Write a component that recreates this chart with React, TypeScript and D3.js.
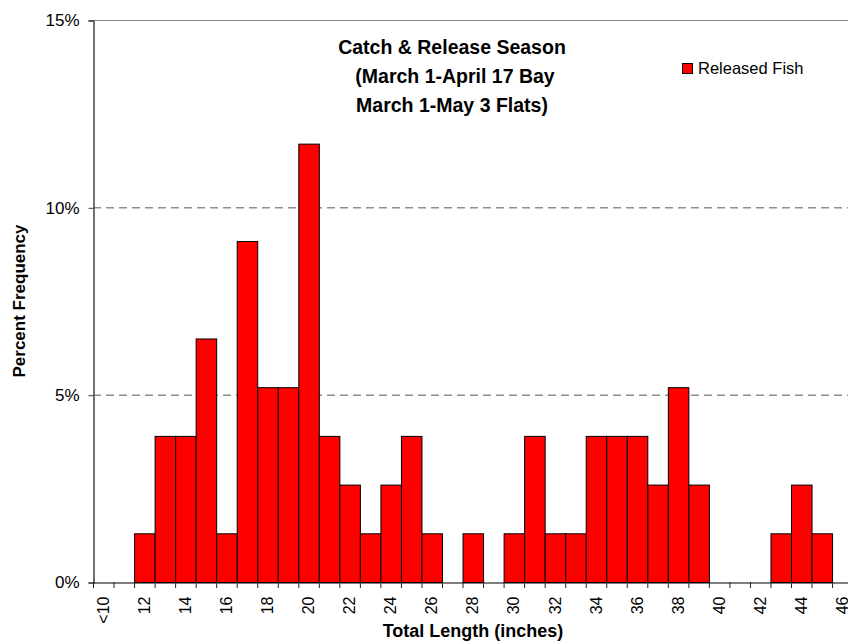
import React, { useEffect, useRef } from 'react';
import * as d3 from 'd3';

// length classes (inches) and percent of released fish
const lengths = ['<10', '11', '12', '13', '14', '15', '16', '17', '18', '19', '20', '21', '22', '23',
  '24', '25', '26', '27', '28', '29', '30', '31', '32', '33', '34', '35', '36', '37', '38', '39',
  '40', '41', '42', '43', '44', '45', '46'];
const releasedPct = [0, 0, 1.3, 3.9, 3.9, 6.5, 1.3, 9.1, 5.2, 5.2, 11.7, 3.9, 2.6, 1.3,
  2.6, 3.9, 1.3, 0, 1.3, 0, 1.3, 3.9, 1.3, 1.3, 3.9, 3.9, 3.9, 2.6, 5.2, 2.6,
  0, 0, 0, 1.3, 2.6, 1.3, 0];
const yTicks = [0, 5, 10, 15];
const titleLines = ['Catch & Release Season', '(March 1-April 17 Bay', 'March 1-May 3 Flats)'];
const seriesName = 'Released Fish';

const FONT = '"Liberation Sans", Arial, sans-serif';

export default function App() {
  const ref = useRef<SVGSVGElement>(null);

  useEffect(() => {
    document.body.style.margin = '0';
    const width = 848;
    const height = 641;
    const margin = { top: 20, left: 93, bottom: 59 };
    const plotRight = margin.left + 20.53 * lengths.length;
    const baseY = height - margin.bottom;

    const svg = d3.select(ref.current);
    svg.selectAll('*').remove();
    svg.attr('width', width).attr('height', height).style('display', 'block');

    const x = d3.scaleBand().domain(lengths).range([margin.left, plotRight]).padding(0);
    const y = d3.scaleLinear().domain([0, 15]).range([baseY, margin.top]);

    // gridlines
    svg.append('g')
      .selectAll('line')
      .data(yTicks.filter(t => t > 0 && t < 15))
      .enter()
      .append('line')
      .attr('x1', margin.left)
      .attr('x2', plotRight)
      .attr('y1', d => y(d) + 0.5)
      .attr('y2', d => y(d) + 0.5)
      .attr('stroke', '#555')
      .attr('stroke-dasharray', '8,5');

    // top border
    svg.append('line')
      .attr('x1', margin.left).attr('x2', plotRight)
      .attr('y1', y(15) + 0.5).attr('y2', y(15) + 0.5)
      .attr('stroke', '#888');

    // bars
    svg.append('g')
      .selectAll('rect')
      .data(lengths.map((l, i) => ({ l, v: releasedPct[i] })).filter(d => d.v > 0))
      .enter()
      .append('rect')
      .attr('x', d => x(d.l)! + 0.5)
      .attr('y', d => y(d.v) + 0.5)
      .attr('width', x.bandwidth())
      .attr('height', d => baseY - y(d.v))
      .attr('fill', '#ff0000')
      .attr('stroke', '#000')
      .attr('stroke-width', 1);

    // y axis
    const yAxis = svg.append('g')
      .attr('transform', `translate(${margin.left + 0.5},0.5)`)
      .call(d3.axisLeft(y).tickValues(yTicks).tickSize(5).tickPadding(9).tickFormat(d => `${d}%`));
    yAxis.select('.domain').attr('stroke', '#444').attr('stroke-width', 1.5);
    yAxis.selectAll('.tick line').attr('stroke', '#444');
    yAxis.selectAll('text').attr('font-family', FONT).attr('font-size', 17).attr('fill', '#000');

    // x axis
    const xAxis = svg.append('g')
      .attr('transform', `translate(0,${baseY + 0.5})`)
      .call(d3.axisBottom(x).tickSize(0).tickFormat((d, i) => (i % 2 === 0 ? d : '')));
    xAxis.select('.domain').attr('stroke', '#000').attr('stroke-width', 1.2);
    xAxis.selectAll('.tick text')
      .attr('font-family', FONT)
      .attr('font-size', 16)
      .attr('fill', '#000')
      .attr('transform', 'rotate(-90)')
      .attr('text-anchor', 'end')
      .attr('x', -14)
      .attr('y', 0)
      .attr('dy', '0.35em');
    // boundary ticks
    svg.append('g')
      .selectAll('line')
      .data(lengths)
      .enter()
      .append('line')
      .attr('x1', d => x(d)! + 0.5)
      .attr('x2', d => x(d)! + 0.5)
      .attr('y1', baseY)
      .attr('y2', baseY + 6)
      .attr('stroke', '#222');

    // axis titles
    svg.append('text')
      .attr('transform', `translate(25,${(margin.top + baseY) / 2}) rotate(-90)`)
      .attr('text-anchor', 'middle')
      .attr('font-family', FONT)
      .attr('font-weight', 'bold')
      .attr('font-size', 17)
      .text('Percent Frequency');

    svg.append('text')
      .attr('x', 473)
      .attr('y', 637)
      .attr('text-anchor', 'middle')
      .attr('font-family', FONT)
      .attr('font-weight', 'bold')
      .attr('font-size', 18)
      .text('Total Length (inches)');

    // title
    const titleX = [452, 455, 452];
    svg.append('g')
      .selectAll('text')
      .data(titleLines)
      .enter()
      .append('text')
      .attr('x', (d, i) => titleX[i])
      .attr('y', (d, i) => 54 + i * 29)
      .attr('text-anchor', 'middle')
      .attr('font-family', FONT)
      .attr('font-weight', 'bold')
      .attr('font-size', 19.5)
      .text(d => d);

    // legend
    const legend = svg.append('g').attr('transform', 'translate(682,63)');
    legend.append('rect')
      .attr('x', 0.5).attr('y', 0.5)
      .attr('width', 10).attr('height', 10)
      .attr('fill', '#ff0000').attr('stroke', '#000');
    legend.append('text')
      .attr('x', 16)
      .attr('y', 5.5)
      .attr('dy', '0.35em')
      .attr('font-family', FONT)
      .attr('font-size', 16.5)
      .text(seriesName);
  }, []);

  return <svg ref={ref}></svg>;
}
